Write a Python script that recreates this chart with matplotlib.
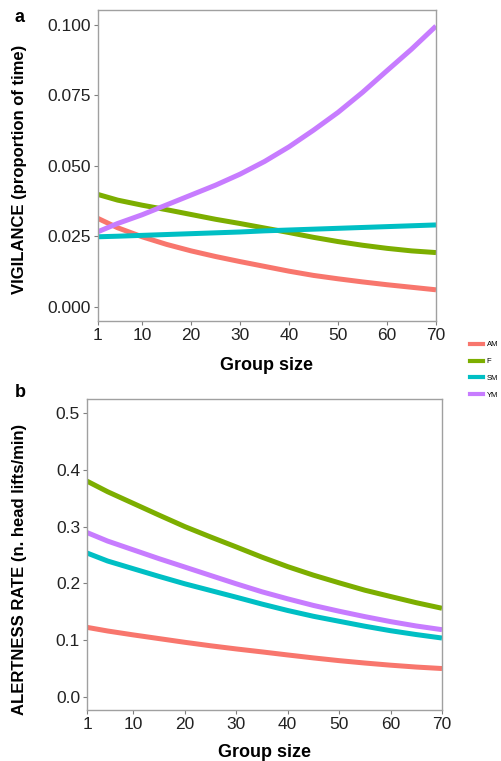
import matplotlib
matplotlib.use("Agg")
import matplotlib.pyplot as plt
from matplotlib.lines import Line2D

plt.rcParams['font.family'] = ['Liberation Sans', 'DejaVu Sans']

groups = ["AM", "F", "SM", "YM"]
colors = ["#F8766D", "#7CAE00", "#00BFC4", "#C77CFF"]
group_size = [1, 5, 10, 15, 20, 25, 30, 35, 40, 45, 50, 55, 60, 65, 70]

vig_AM = [0.0314, 0.0281, 0.0249, 0.0222, 0.0199, 0.0179, 0.0161, 0.0144,
          0.0127, 0.0112, 0.0100, 0.0089, 0.0079, 0.0070, 0.0061]
vig_F = [0.0399, 0.0379, 0.0361, 0.0345, 0.0328, 0.0311, 0.0296, 0.0280,
         0.0264, 0.0247, 0.0232, 0.0219, 0.0208, 0.0199, 0.0193]
vig_SM = [0.0249, 0.0251, 0.0254, 0.0257, 0.0260, 0.0263, 0.0266, 0.0270,
          0.0273, 0.0276, 0.0279, 0.0282, 0.0285, 0.0288, 0.0291]
vig_YM = [0.0267, 0.0296, 0.0327, 0.0362, 0.0397, 0.0432, 0.0471, 0.0516,
          0.0568, 0.0627, 0.0690, 0.0761, 0.0838, 0.0914, 0.0996]

ale_AM = [0.1226, 0.1162, 0.1093, 0.1028, 0.0963, 0.0902, 0.0846, 0.0794,
          0.0740, 0.0688, 0.0640, 0.0598, 0.0560, 0.0527, 0.0501]
ale_F = [0.3800, 0.3614, 0.3408, 0.3202, 0.3000, 0.2818, 0.2642, 0.2462,
         0.2295, 0.2145, 0.2010, 0.1880, 0.1769, 0.1660, 0.1562]
ale_SM = [0.2535, 0.2394, 0.2258, 0.2123, 0.1993, 0.1875, 0.1757, 0.1636,
          0.1523, 0.1421, 0.1333, 0.1246, 0.1167, 0.1099, 0.1038]
ale_YM = [0.2895, 0.2745, 0.2590, 0.2435, 0.2288, 0.2140, 0.1993, 0.1852,
          0.1728, 0.1612, 0.1510, 0.1415, 0.1327, 0.1250, 0.1185]

vig = [vig_AM, vig_F, vig_SM, vig_YM]
ale = [ale_AM, ale_F, ale_SM, ale_YM]

xticks = [1, 10, 20, 30, 40, 50, 60, 70]
vig_ticks = [0.000, 0.025, 0.050, 0.075, 0.100]
vig_ticklabels = ["0.000", "0.025", "0.050", "0.075", "0.100"]
ale_ticks = [0.0, 0.1, 0.2, 0.3, 0.4, 0.5]
ale_ticklabels = ["0.0", "0.1", "0.2", "0.3", "0.4", "0.5"]

W, H = 502, 761
fig = plt.figure(figsize=(W / 100, H / 100), dpi=100)

def px_axes(l, t, r, b):
    return fig.add_axes([l / W, 1 - b / H, (r - l) / W, (b - t) / H])

ax1 = px_axes(98, 10, 436, 321)
ax2 = px_axes(87, 399, 442, 710)

for ax in (ax1, ax2):
    for sp in ax.spines.values():
        sp.set_color("#a0a0a0")
        sp.set_linewidth(1.0)
    ax.tick_params(axis='both', colors="#808080", length=3, width=0.8,
                   labelsize=12.5, labelcolor="#222222", pad=2)
    ax.set_xlim(1, 70)
    ax.set_xticks(xticks)

ax1.set_xlabel("Group size", fontsize=13, fontweight='bold', labelpad=10)
ax2.set_xlabel("Group size", fontsize=13, fontweight='bold', labelpad=9)

for ys, c in zip(vig, colors):
    ax1.plot(group_size, ys, color=c, lw=3.6, solid_capstyle='butt')
for ys, c in zip(ale, colors):
    ax2.plot(group_size, ys, color=c, lw=3.6, solid_capstyle='butt')

ax1.set_ylim(-0.00496, 0.1053)
ax1.set_yticks(vig_ticks)
ax1.set_yticklabels(vig_ticklabels)
ax2.set_ylim(-0.0229, 0.5246)
ax2.set_yticks(ale_ticks)
ax2.set_yticklabels(ale_ticklabels)

fig.text(20 / W, 1 - 169 / H, "VIGILANCE (proportion of time)", rotation=90,
         ha='center', va='center', fontsize=12, fontweight='bold')
fig.text(20 / W, 1 - 569 / H, "ALERTNESS RATE (n. head lifts/min)", rotation=90,
         ha='center', va='center', fontsize=12, fontweight='bold')
fig.text(20 / W, 1 - 17 / H, "a", ha='center', va='center', fontsize=13, fontweight='bold')
fig.text(20 / W, 1 - 392 / H, "b", ha='center', va='center', fontsize=13, fontweight='bold')

handles = [Line2D([], [], color=c, lw=3) for c in colors]
fig.legend(handles, groups, loc='center left', bbox_to_anchor=(466 / W, 1 - 370 / H),
           frameon=False, fontsize=5.5, handlelength=1.7, handletextpad=0.5,
           labelspacing=1.25, borderpad=0)

fig.savefig("out.png", dpi=100)
